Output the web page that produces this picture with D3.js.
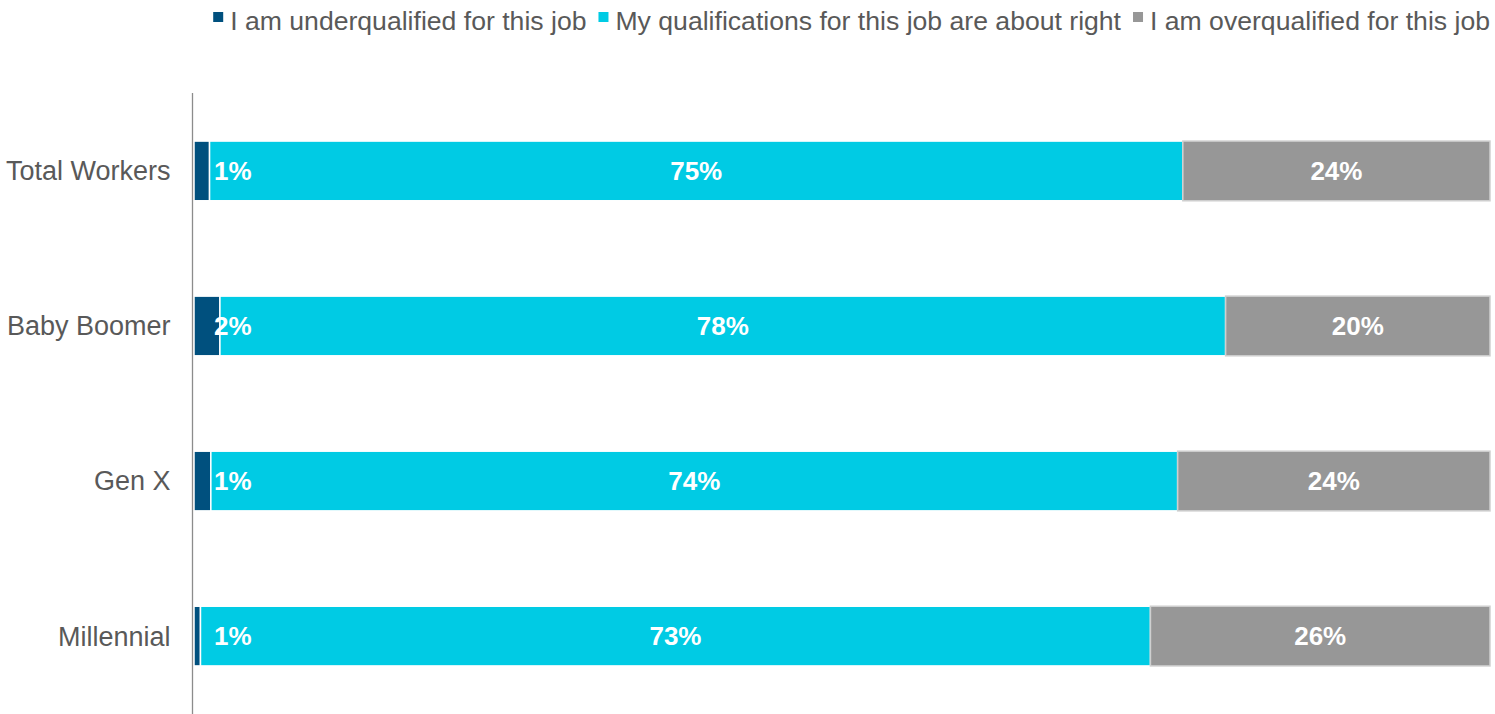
<!DOCTYPE html>
<html>
<head>
<meta charset="utf-8">
<script src="https://cdn.jsdelivr.net/npm/d3@7"></script>
<style>
  body { margin: 0; background: #fff; }
  text { font-family: "Liberation Sans", Arial, sans-serif; }
</style>
</head>
<body>
<svg id="chart" width="1495" height="714"></svg>
<script>
var categories = ["Total Workers", "Baby Boomer", "Gen X", "Millennial"];
var seriesNames = [
  "I am underqualified for this job",
  "My qualifications for this job are about right",
  "I am overqualified for this job"
];
// segment sizes (percent of bar)
var underValues = [1.2, 2.0, 1.3, 0.5];
var rightValues = [75.1, 77.6, 74.6, 73.3];
var overValues = [23.7, 20.4, 24.1, 26.2];
// printed labels
var underLabels = ["1%", "2%", "1%", "1%"];
var rightLabels = ["75%", "78%", "74%", "73%"];
var overLabels = ["24%", "20%", "24%", "26%"];
var colors = ["#00507e", "#00cbe4", "#979797"];

var svg = d3.select("#chart");

var data = categories.map(function (c, i) {
  return {
    category: c,
    under: underValues[i], right: rightValues[i], over: overValues[i],
    labels: [underLabels[i], rightLabels[i], overLabels[i]]
  };
});
var keys = ["under", "right", "over"];
var stacked = d3.stack().keys(keys)(data);

var x = d3.scaleLinear().domain([0, 100]).range([194, 1490]);
var y = d3.scaleBand().domain(categories).range([93, 714])
  .paddingInner(0.615).paddingOuter(0.31);

var layer = svg.selectAll(".layer")
  .data(stacked)
  .enter()
  .append("g")
  .attr("class", "layer")
  .attr("fill", function (d, i) { return colors[i]; })
  .attr("stroke", function (d) { return d.key === "over" ? "#cfcfcf" : "#fff"; });

layer.selectAll("rect")
  .data(function (d) { return d; })
  .enter()
  .append("rect")
  .attr("x", function (d) { return x(d[0]); })
  .attr("y", function (d) { return y(d.data.category); })
  .attr("width", function (d) { return x(d[1]) - x(d[0]); })
  .attr("height", y.bandwidth())
  .attr("stroke-width", 1.5);

// value labels, drawn on top of all segments
var labelData = [];
stacked.forEach(function (s, k) {
  s.forEach(function (d) { labelData.push({ s: d, k: k }); });
});
svg.append("g").selectAll("text")
  .data(labelData)
  .enter()
  .append("text")
  .attr("x", function (d) {
    if (d.k === 0) return x(0) + 20;
    return (x(d.s[0]) + x(d.s[1])) / 2;
  })
  .attr("y", function (d) { return y(d.s.data.category) + y.bandwidth() / 2 + 9; })
  .attr("text-anchor", function (d) { return d.k === 0 ? "start" : "middle"; })
  .attr("fill", "#fff")
  .attr("font-size", 26)
  .attr("font-weight", "bold")
  .text(function (d) { return d.s.data.labels[d.k]; });

// y axis
var yAxis = svg.append("g")
  .attr("transform", "translate(" + 192.5 + ",0)")
  .call(d3.axisLeft(y).tickSize(0).tickPadding(22));
yAxis.select(".domain").attr("stroke", "#8c8c8c").attr("stroke-width", 1.3)
  .attr("d", "M0,93V714");
yAxis.selectAll("text")
  .attr("font-size", 27)
  .attr("fill", "#595959")
  .attr("dy", "0.35em");

// legend, right aligned
var legend = svg.append("g").attr("class", "legend");
var items = legend.selectAll("g")
  .data(seriesNames)
  .enter()
  .append("g");
items.append("rect")
  .attr("width", 10).attr("height", 10)
  .attr("y", 12)
  .attr("fill", function (d, i) { return colors[i]; });
items.append("text")
  .attr("x", 17).attr("y", 30)
  .attr("font-size", 26.6)
  .attr("fill", "#595959")
  .text(function (d) { return d; });

var gap = 12;
var widths = [];
items.each(function () {
  widths.push(17 + d3.select(this).select("text").node().getComputedTextLength());
});
var total = d3.sum(widths) + gap * (widths.length - 1);
var cx = 1490 - total;
items.attr("transform", function (d, i) {
  var t = "translate(" + cx + ",0)";
  cx += widths[i] + gap;
  return t;
});
</script>
</body>
</html>
